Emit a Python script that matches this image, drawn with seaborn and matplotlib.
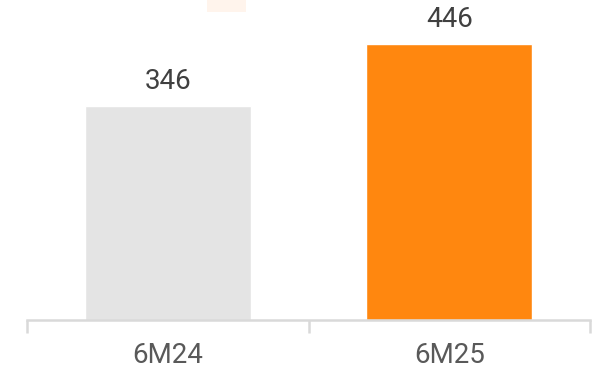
import matplotlib
matplotlib.use("Agg")
import matplotlib.pyplot as plt
from matplotlib.patches import Rectangle
from matplotlib.ticker import FixedLocator
import seaborn as sns
import pandas as pd

categories = ["6M24", "6M25"]
values = [346, 446]
colors = ["#e4e4e4", "#ff870f"]

sns.set_theme(style="white")
plt.rcParams["font.family"] = ["Roboto", "DejaVu Sans"]

df = pd.DataFrame({"period": categories, "value": values})

fig = plt.figure(figsize=(6.03, 3.68), dpi=100)
ax = fig.add_axes([27 / 603, 48 / 368, 563 / 603, 320 / 368])

sns.barplot(data=df, x="period", y="value", hue="period", palette=colors,
            width=0.59, saturation=1, legend=False, ax=ax)

ax.set_xlim(-0.5, 1.5)
ax.set_ylim(0, 446 * 320 / 276)

for sp in ["top", "right", "left"]:
    ax.spines[sp].set_visible(False)
ax.spines["bottom"].set_color("#d9d9d9")
ax.spines["bottom"].set_linewidth(1.8)

ax.set_yticks([])
ax.set_xlabel("")
ax.set_ylabel("")
ax.tick_params(axis="x", which="major", bottom=False, length=0, pad=16,
               labelsize=20, labelcolor="#595959")
ax.xaxis.set_minor_locator(FixedLocator([-0.5, 0.5, 1.5]))
ax.tick_params(axis="x", which="minor", bottom=True, length=9, width=1.8,
               color="#d9d9d9")

for i, v in enumerate(values):
    ax.annotate(f"{v}", xy=(i, v), xytext=(0, 12), textcoords="offset points",
                ha="center", va="baseline", fontsize=20, color="#404040")

fig.patches.append(Rectangle((207 / 603, 1 - 12 / 368), 39 / 603, 12 / 368,
                             transform=fig.transFigure, facecolor="#fff4ec",
                             edgecolor="none"))

fig.savefig("out.png", dpi=100)
